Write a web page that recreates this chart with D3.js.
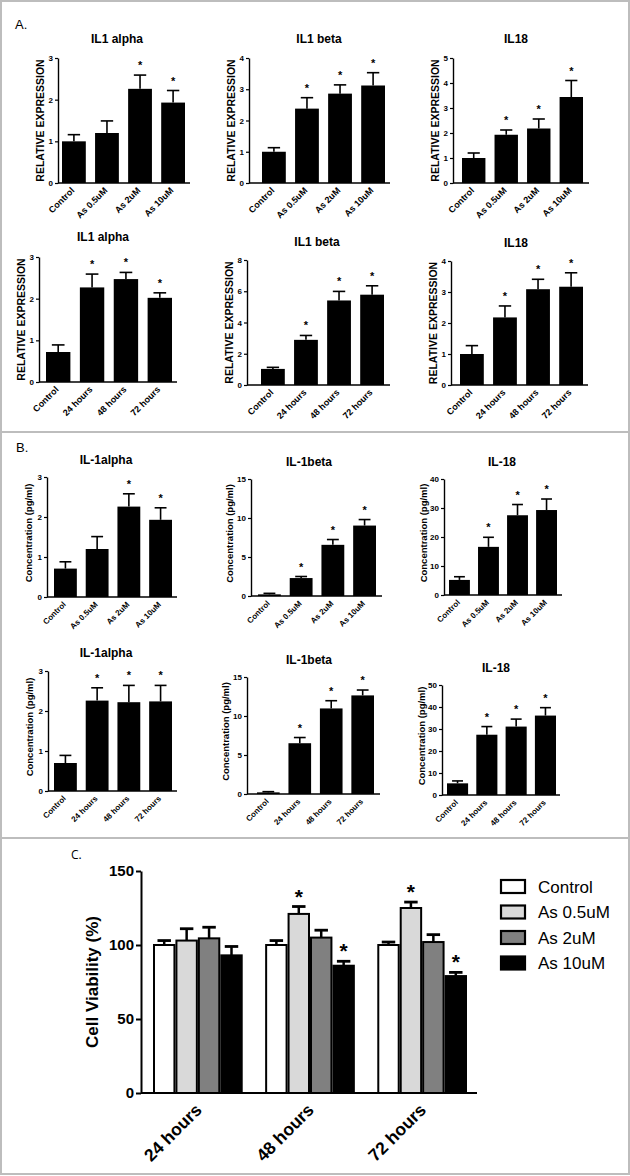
<!DOCTYPE html>
<html><head><meta charset="utf-8">
<script src="https://cdn.jsdelivr.net/npm/d3@7"></script>
<style>
body{margin:0;background:#fff}
svg{display:block}
text{font-family:"Liberation Sans",Arial,Helvetica,sans-serif;fill:#000}
</style>
</head><body>
<svg id="chart" width="630" height="1176"></svg>
<script>
// ---------- DATA ----------
const doseCats = ["Control", "As 0.5uM", "As 2uM", "As 10uM"];
const timeCats = ["Control", "24 hours", "48 hours", "72 hours"];

// Panel A: relative expression
const a1Values = [1.0, 1.2, 2.26, 1.93],  a1Err = [0.16, 0.29, 0.33, 0.29], a1Stars = [0, 0, 1, 1], a1Ticks = [0, 1, 2, 3];
const a2Values = [1.0, 2.38, 2.86, 3.12], a2Err = [0.13, 0.35, 0.28, 0.41], a2Stars = [0, 1, 1, 1], a2Ticks = [0, 1, 2, 3, 4];
const a3Values = [1.0, 1.93, 2.18, 3.44], a3Err = [0.2, 0.19, 0.38, 0.66],  a3Stars = [0, 1, 1, 1], a3Ticks = [0, 1, 2, 3, 4, 5];
const a4Values = [0.72, 2.27, 2.47, 2.02], a4Err = [0.17, 0.32, 0.16, 0.12], a4Stars = [0, 1, 1, 1], a4Ticks = [0, 1, 2, 3];
const a5Values = [1.03, 2.89, 5.41, 5.78], a5Err = [0.1, 0.28, 0.58, 0.57], a5Stars = [0, 1, 1, 1], a5Ticks = [0, 2, 4, 6, 8];
const a6Values = [1.0, 2.18, 3.09, 3.17], a6Err = [0.27, 0.37, 0.32, 0.45], a6Stars = [0, 1, 1, 1], a6Ticks = [0, 1, 2, 3, 4];

// Panel B: concentration (pg/ml)
const b1Values = [0.71, 1.2, 2.26, 1.93], b1Err = [0.17, 0.31, 0.32, 0.3],  b1Stars = [0, 0, 1, 1], b1Ticks = [0, 1, 2, 3];
const b2Values = [0.21, 2.3, 6.56, 9.03], b2Err = [0.13, 0.2, 0.68, 0.77],  b2Stars = [0, 1, 1, 1], b2Ticks = [0, 5, 10, 15];
const b3Values = [5.2, 16.6, 27.5, 29.3], b3Err = [1.1, 3.3, 3.7, 3.8],     b3Stars = [0, 1, 1, 1], b3Ticks = [0, 10, 20, 30, 40];
const b4Values = [0.70, 2.26, 2.22, 2.24], b4Err = [0.19, 0.32, 0.42, 0.40], b4Stars = [0, 1, 1, 1], b4Ticks = [0, 1, 2, 3];
const b5Values = [0.21, 6.51, 10.97, 12.64], b5Err = [0.09, 0.73, 0.99, 0.69], b5Stars = [0, 1, 1, 1], b5Ticks = [0, 5, 10, 15];
const b6Values = [5.3, 27.4, 31.1, 36.1], b6Err = [1.1, 3.7, 3.4, 3.6],     b6Stars = [0, 1, 1, 1], b6Ticks = [0, 10, 20, 30, 40, 50];

// Panel C: cell viability
const cGroups = ["24 hours", "48 hours", "72 hours"];
const cSeries = ["Control", "As 0.5uM", "As 2uM", "As 10uM"];
const cControl = [100, 100, 100],   cControlErr = [3, 3, 2];
const cAs05 = [103, 121, 125],      cAs05Err = [8, 5, 4];
const cAs2 = [104.5, 105, 102],     cAs2Err = [7.5, 5, 5];
const cAs10 = [93, 86, 79],         cAs10Err = [6, 3, 2.5];
const cStars05 = [0, 1, 1], cStars10 = [0, 1, 1];
const cTicks = [0, 50, 100, 150];

// ---------- DRAW ----------
const svg = d3.select("#chart");
const FONT = '"Liberation Sans",Arial,Helvetica,sans-serif';
const fmt = d3.format("d");

// frame and separators
svg.append("rect").attr("x", 1).attr("y", 1).attr("width", 628).attr("height", 1173)
  .attr("fill", "none").attr("stroke", "#bdbdbd").attr("stroke-width", 2);
[432, 838].forEach(yy => svg.append("line").attr("x1", 0).attr("x2", 630).attr("y1", yy).attr("y2", yy)
  .attr("stroke", "#bdbdbd").attr("stroke-width", 2));

svg.append("text").attr("x", 15).attr("y", 29).style("font-size", "13px").text("A.");
svg.append("text").attr("x", 16).attr("y", 452).style("font-size", "13px").text("B.");
svg.append("text").attr("x", 71).attr("y", 859).style("font-size", "12px").style("font-family", '"Open Sans",sans-serif').text("C.");

function smallPanel(cfg) {
  const g = svg.append("g");
  const maxT = cfg.ticks[cfg.ticks.length - 1];
  const y = d3.scaleLinear().domain([0, maxT]).range([cfg.yZero, cfg.yTop]);
  const x = d3.scaleBand().domain(cfg.cats).range([cfg.bx0, cfg.bx1]).paddingInner(0.28).paddingOuter(0);
  const bw = x.bandwidth();

  // bars
  g.selectAll("rect.bar").data(cfg.values).join("rect")
    .attr("x", (d, i) => x(cfg.cats[i]))
    .attr("y", d => y(d))
    .attr("width", bw)
    .attr("height", d => cfg.yZero - y(d))
    .attr("fill", "#000");
  // error bars
  cfg.values.forEach((v, i) => {
    const cx = x(cfg.cats[i]) + bw / 2;
    const top = y(v + cfg.err[i]);
    g.append("line").attr("x1", cx).attr("x2", cx).attr("y1", y(v)).attr("y2", top)
      .attr("stroke", "#000").attr("stroke-width", 1.6);
    g.append("line").attr("x1", cx - bw * 0.26).attr("x2", cx + bw * 0.26).attr("y1", top).attr("y2", top)
      .attr("stroke", "#000").attr("stroke-width", 1.6);
    if (cfg.stars[i]) {
      g.append("text").attr("x", cx).attr("y", top - 6).attr("text-anchor", "middle")
        .style("font-size", "11px").style("font-weight", "bold").text("*");
    }
  });
  // y axis
  const ya = d3.axisLeft(y).tickValues(cfg.ticks).tickFormat(fmt).tickSize(3).tickSizeOuter(0).tickPadding(2);
  const yg = g.append("g").attr("transform", `translate(${cfg.ax},0)`).call(ya);
  yg.select(".domain").attr("stroke", "#000").attr("stroke-width", 1.4);
  yg.selectAll(".tick line").attr("stroke", "#000").attr("stroke-width", 1.2);
  yg.selectAll(".tick text").style("font-size", "8px").style("font-weight", "bold").style("font-family", FONT);
  // x axis line
  g.append("line").attr("x1", cfg.ax).attr("x2", cfg.axEnd).attr("y1", cfg.yZero).attr("y2", cfg.yZero)
    .attr("stroke", "#000").attr("stroke-width", 1.4);
  // x labels
  g.selectAll("text.xl").data(cfg.cats).join("text")
    .attr("transform", d => `translate(${x(d) + bw / 2 + 1},${cfg.yZero + 8}) rotate(-45)`)
    .attr("text-anchor", "end")
    .style("font-size", cfg.xlSize + "px").style("font-weight", "bold")
    .text(d => d);
  // y title
  g.append("text")
    .attr("transform", `translate(${cfg.ax + cfg.ytOff},${(cfg.yTop + cfg.yZero) / 2 + cfg.ytShift}) rotate(-90)`)
    .attr("text-anchor", "middle")
    .style("font-size", cfg.ytSize + "px").style("font-weight", "bold")
    .text(cfg.yTitle);
  // title
  g.append("text").attr("x", cfg.tx).attr("y", cfg.ty).attr("text-anchor", "middle")
    .style("font-size", "12px").style("font-weight", "bold").text(cfg.title);
}

const RE = "RELATIVE EXPRESSION", CO = "Concentration (pg/ml)";
const panels = [
  {title: "IL1 alpha", cats: doseCats, values: a1Values, err: a1Err, stars: a1Stars, ticks: a1Ticks, ax: 58, bx0: 62, bx1: 185, axEnd: 190, yTop: 58, yZero: 183, tx: 117, ty: 43, yTitle: RE, ytOff: -14, ytSize: 10.5, ytShift: 0, xlSize: 9},
  {title: "IL1 beta", cats: doseCats, values: a2Values, err: a2Err, stars: a2Stars, ticks: a2Ticks, ax: 249, bx0: 262, bx1: 385, axEnd: 390, yTop: 58, yZero: 183, tx: 319, ty: 43, yTitle: RE, ytOff: -14, ytSize: 10.5, ytShift: 0, xlSize: 9},
  {title: "IL18", cats: doseCats, values: a3Values, err: a3Err, stars: a3Stars, ticks: a3Ticks, ax: 453, bx0: 462, bx1: 583, axEnd: 589, yTop: 58, yZero: 183, tx: 516, ty: 43, yTitle: RE, ytOff: -14, ytSize: 10.5, ytShift: 0, xlSize: 9},
  {title: "IL1 alpha", cats: timeCats, values: a4Values, err: a4Err, stars: a4Stars, ticks: a4Ticks, ax: 39, bx0: 46, bx1: 172, axEnd: 177, yTop: 257, yZero: 382, tx: 103, ty: 241, yTitle: RE, ytOff: -14, ytSize: 10.5, ytShift: 0, xlSize: 9},
  {title: "IL1 beta", cats: timeCats, values: a5Values, err: a5Err, stars: a5Stars, ticks: a5Ticks, ax: 247, bx0: 261, bx1: 384, axEnd: 390, yTop: 260, yZero: 385, tx: 317, ty: 246, yTitle: RE, ytOff: -14, ytSize: 10.5, ytShift: 0, xlSize: 9},
  {title: "IL18", cats: timeCats, values: a6Values, err: a6Err, stars: a6Stars, ticks: a6Ticks, ax: 451, bx0: 460, bx1: 583, axEnd: 588, yTop: 261, yZero: 385, tx: 516, ty: 247, yTitle: RE, ytOff: -14, ytSize: 10.5, ytShift: 0, xlSize: 9},
  {title: "IL-1alpha", cats: doseCats, values: b1Values, err: b1Err, stars: b1Stars, ticks: b1Ticks, ax: 47, bx0: 54, bx1: 172, axEnd: 177, yTop: 477, yZero: 597, tx: 106, ty: 464, yTitle: CO, ytOff: -15, ytSize: 9.5, ytShift: -4, xlSize: 8},
  {title: "IL-1beta", cats: doseCats, values: b2Values, err: b2Err, stars: b2Stars, ticks: b2Ticks, ax: 251, bx0: 258, bx1: 376, axEnd: 382, yTop: 479, yZero: 596, tx: 309, ty: 466, yTitle: CO, ytOff: -18, ytSize: 9.5, ytShift: -4, xlSize: 8},
  {title: "IL-18", cats: doseCats, values: b3Values, err: b3Err, stars: b3Stars, ticks: b3Ticks, ax: 444, bx0: 449, bx1: 557, axEnd: 562, yTop: 479, yZero: 595, tx: 502, ty: 466, yTitle: CO, ytOff: -17, ytSize: 9.5, ytShift: -4, xlSize: 8},
  {title: "IL-1alpha", cats: timeCats, values: b4Values, err: b4Err, stars: b4Stars, ticks: b4Ticks, ax: 48, bx0: 54, bx1: 172, axEnd: 177, yTop: 671, yZero: 791, tx: 106, ty: 657, yTitle: CO, ytOff: -15, ytSize: 9.5, ytShift: -4, xlSize: 8},
  {title: "IL-1beta", cats: timeCats, values: b5Values, err: b5Err, stars: b5Stars, ticks: b5Ticks, ax: 247, bx0: 257, bx1: 374, axEnd: 380, yTop: 677, yZero: 794, tx: 309, ty: 664, yTitle: CO, ytOff: -18, ytSize: 9.5, ytShift: -4, xlSize: 8},
  {title: "IL-18", cats: timeCats, values: b6Values, err: b6Err, stars: b6Stars, ticks: b6Ticks, ax: 442, bx0: 447, bx1: 556, axEnd: 560, yTop: 685, yZero: 795, tx: 496, ty: 672, yTitle: CO, ytOff: -17, ytSize: 9.5, ytShift: -4, xlSize: 8}
];
panels.forEach(smallPanel);

// ---------- Panel C ----------
(function () {
  const ax = 141, axEnd = 477, yTop = 871, yZero = 1093;
  const g = svg.append("g");
  const y = d3.scaleLinear().domain([0, 150]).range([yZero, yTop]);
  const x0 = d3.scaleBand().domain(cGroups).range([153, 467]).paddingInner(0.2).paddingOuter(0);
  const x1 = d3.scaleBand().domain(cSeries).range([0, x0.bandwidth()]).padding(0);
  const colors = d3.scaleOrdinal().domain(cSeries).range(["#ffffff", "#d9d9d9", "#808080", "#000000"]);
  const vals = [cControl, cAs05, cAs2, cAs10];
  const errs = [cControlErr, cAs05Err, cAs2Err, cAs10Err];
  const stars = [[0, 0, 0], cStars05, [0, 0, 0], cStars10];
  const bw = x1.bandwidth();

  cSeries.forEach((s, si) => {
    cGroups.forEach((gname, gi) => {
      const v = vals[si][gi];
      const bx = x0(gname) + x1(s);
      const cx = bx + bw / 2;
      const top = y(v + errs[si][gi]);
      g.append("line").attr("x1", cx).attr("x2", cx).attr("y1", y(v)).attr("y2", top)
        .attr("stroke", "#000").attr("stroke-width", 2.5);
      g.append("line").attr("x1", cx - bw * 0.3).attr("x2", cx + bw * 0.3).attr("y1", top).attr("y2", top)
        .attr("stroke", "#000").attr("stroke-width", 2.8);
      g.append("rect").attr("x", bx + 1).attr("y", y(v)).attr("width", bw - 2).attr("height", yZero - y(v))
        .attr("fill", colors(s)).attr("stroke", "#000").attr("stroke-width", 2);
      if (stars[si][gi]) {
        g.append("text").attr("x", cx).attr("y", top - 3).attr("text-anchor", "middle")
          .style("font-size", "21px").style("font-weight", "bold").text("*");
      }
    });
  });

  const ya = d3.axisLeft(y).tickValues(cTicks).tickFormat(fmt).tickSize(5).tickSizeOuter(0).tickPadding(2);
  const yg = g.append("g").attr("transform", `translate(${ax},0)`).call(ya);
  yg.select(".domain").attr("stroke", "#000").attr("stroke-width", 2);
  yg.selectAll(".tick line").attr("stroke", "#000").attr("stroke-width", 2);
  yg.selectAll(".tick text").style("font-size", "15px").style("font-weight", "bold").style("font-family", FONT);
  g.append("line").attr("x1", ax).attr("x2", axEnd).attr("y1", yZero).attr("y2", yZero)
    .attr("stroke", "#000").attr("stroke-width", 2);

  g.selectAll("text.gl").data(cGroups).join("text")
    .attr("transform", d => `translate(${x0(d) + x0.bandwidth() / 2 + 5},${yZero + 18}) rotate(-45)`)
    .attr("text-anchor", "end")
    .style("font-size", "17.5px").style("font-weight", "bold").text(d => d);

  g.append("text").attr("transform", `translate(98,${(yTop + yZero) / 2}) rotate(-90)`)
    .attr("text-anchor", "middle").style("font-size", "17px").style("font-weight", "bold")
    .text("Cell Viability (%)");

  // legend
  const lg = g.append("g");
  cSeries.forEach((s, i) => {
    const ly = 880 + i * 25.5;
    lg.append("rect").attr("x", 501).attr("y", ly).attr("width", 24).attr("height", 13)
      .attr("fill", colors(s)).attr("stroke", "#000").attr("stroke-width", 2.2);
    lg.append("text").attr("x", 538).attr("y", ly + 12.5).style("font-size", "17px").text(s);
  });
})();
</script>
</body></html>
